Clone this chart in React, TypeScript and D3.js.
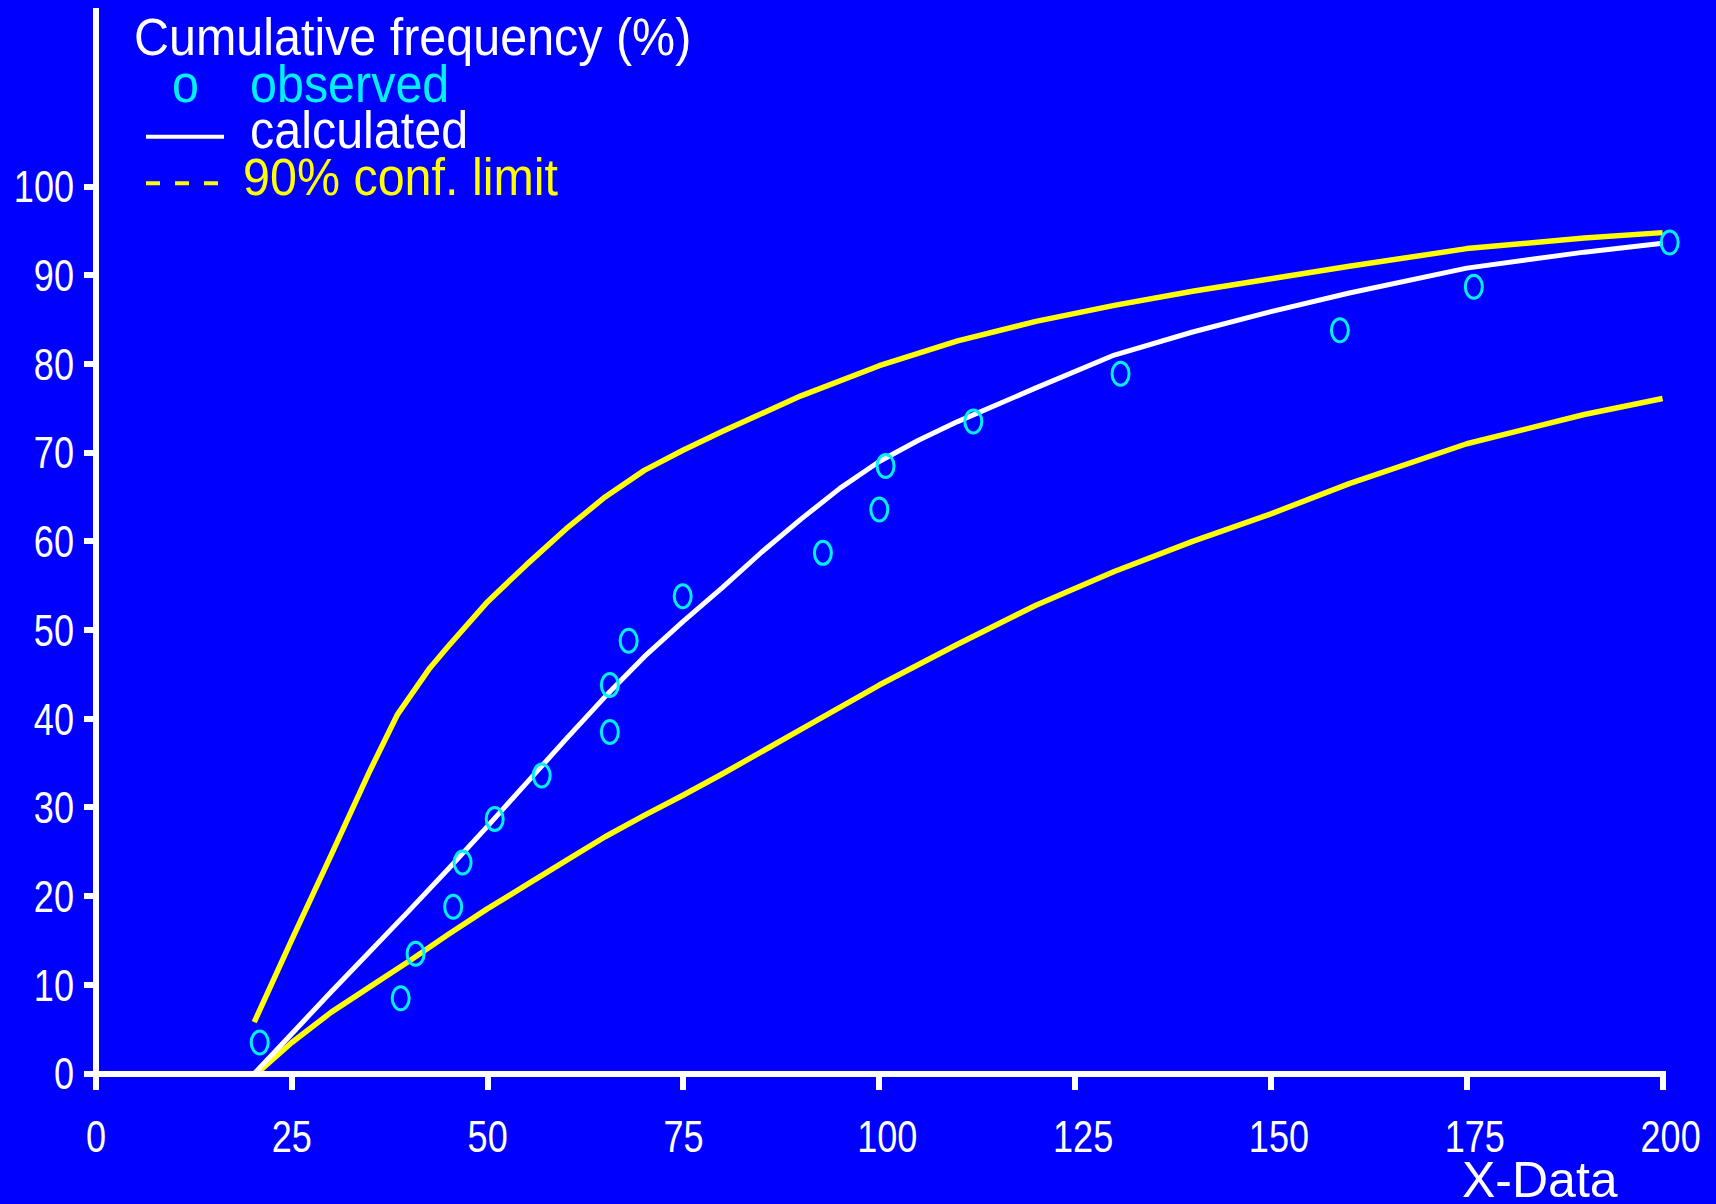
import React, { useEffect } from 'react';
import * as d3 from 'd3';

// observed points [x, cumulative %]
const observed: [number, number][] = [
  [20.9, 3.5], [38.9, 8.5], [40.8, 13.5], [45.6, 18.8], [46.8, 23.8],
  [50.9, 28.7], [56.9, 33.6], [65.6, 38.5], [65.6, 43.8], [68.0, 48.8],
  [74.9, 53.8], [92.8, 58.7], [100.0, 63.6], [100.8, 68.5], [112.0, 73.5],
  [130.8, 78.9], [158.8, 83.8], [175.9, 88.7], [200.9, 93.7],
];

// calculated curve
const calculated: [number, number][] = [
  [20.2, 0], [25, 4.5], [30, 9.2], [35, 13.8], [40, 18.4], [45, 23.1],
  [50, 27.9], [55, 32.8], [60, 37.7], [65, 42.5], [70, 47.0], [75, 51.0],
  [80, 54.8], [85, 58.8], [90, 62.5], [95, 66.0], [100, 69.0], [105, 71.4],
  [110, 73.5], [120, 77.3], [130, 81.0], [140, 83.6], [150, 85.9], [160, 88.0],
  [175, 90.8], [190, 92.6], [200, 93.6],
];

// 90% confidence limits
const upperLimit: [number, number][] = [
  [20.2, 5.8], [25, 15.1], [30, 24.6], [35, 34.2], [38.5, 40.5], [42.6, 45.7],
  [45, 48.2], [50, 53.2], [55, 57.4], [60, 61.4], [65, 65.0], [70, 68.0],
  [75, 70.3], [80, 72.4], [90, 76.4], [100, 79.8], [110, 82.6], [120, 84.8],
  [130, 86.6], [140, 88.2], [150, 89.6], [160, 91.0], [175, 93.0], [190, 94.2],
  [200, 94.8],
];

const lowerLimit: [number, number][] = [
  [20.5, 0], [25, 3.5], [30, 6.9], [35, 9.8], [40, 12.7], [45, 15.7],
  [50, 18.6], [55, 21.3], [60, 24.0], [65, 26.7], [70, 29.1], [75, 31.4],
  [80, 33.8], [90, 38.8], [100, 43.8], [110, 48.4], [120, 52.8], [130, 56.6],
  [140, 60.0], [150, 63.1], [160, 66.5], [175, 71.0], [190, 74.3], [200, 76.1],
];

const xTicks = [0, 25, 50, 75, 100, 125, 150, 175, 200];
const yTicks = [0, 10, 20, 30, 40, 50, 60, 70, 80, 90, 100];

const W = 1716;
const H = 1204;
const BLUE = '#0000ff';
const YELLOW = '#ffff00';
const CYAN = '#00f0ff';
const FONT = '"Liberation Sans", Arial, sans-serif';

export default function App() {
  useEffect(() => {
    document.body.style.margin = '0';
    document.body.style.background = BLUE;
  }, []);

  const x = d3.scaleLinear().domain([0, 200]).range([96, 1662.6]);
  const y = d3.scaleLinear().domain([0, 100]).range([1073.6, 186.5]);

  const line = d3
    .line<[number, number]>()
    .x(d => x(d[0]))
    .y(d => y(d[1]));

  const x0 = x(0);
  const y0 = y(0);

  return (
    <svg
      width={W}
      height={H}
      style={{ position: 'absolute', left: 0, top: 0, display: 'block' }}
      fontFamily={FONT}
    >
      <rect width={W} height={H} fill={BLUE} />

      {/* curves */}
      <path d={line(lowerLimit) || ''} fill="none" stroke={YELLOW} strokeWidth={5.5} strokeLinejoin="round" />
      <path d={line(upperLimit) || ''} fill="none" stroke={YELLOW} strokeWidth={5.5} strokeLinejoin="round" />
      <path d={line(calculated) || ''} fill="none" stroke="#ffffff" strokeWidth={5} strokeLinejoin="round" />

      {/* observed markers */}
      {observed.map((d, i) => (
        <ellipse
          key={i}
          cx={x(d[0])}
          cy={y(d[1])}
          rx={8.5}
          ry={11.5}
          fill="none"
          stroke={CYAN}
          strokeWidth={3}
        />
      ))}

      {/* axes */}
      <g fill="#ffffff" shapeRendering="crispEdges">
        <rect x={x0 - 3} y={8} width={6} height={1090 - 8} />
        <rect x={84} y={y0 - 3} width={x(200) + 3 - 84} height={6} />
        {xTicks.map(t => (
          <rect key={t} x={x(t) - 3} y={y0} width={6} height={16} />
        ))}
        {yTicks.map(t => (
          <rect key={t} x={84} y={y(t) - 3} width={x0 - 84} height={6} />
        ))}
      </g>

      {/* tick labels */}
      <g fill="#ffffff" fontSize={44}>
        {yTicks.map(t => (
          <text
            key={t}
            transform={`translate(74,${y(t)}) scale(0.82,1)`}
            textAnchor="end"
            dy="0.36em"
          >
            {t}
          </text>
        ))}
        {xTicks.map(t => (
          <text
            key={t}
            transform={`translate(${x(t) + (t >= 100 ? 8 : 0)},1152) scale(0.82,1)`}
            textAnchor="middle"
          >
            {t}
          </text>
        ))}
      </g>
      <text x={1462} y={1197} fill="#ffffff" fontSize={50}>
        X-Data
      </text>

      {/* legend */}
      <g fontSize={51}>
        <text transform="translate(134,55) scale(0.95,1)" fill="#ffffff">
          Cumulative frequency (%)
        </text>
        <text transform="translate(172,101.7) scale(0.95,1)" fill={CYAN}>
          o
        </text>
        <text transform="translate(250,101.7) scale(0.95,1)" fill={CYAN}>
          observed
        </text>
        <line x1={146} x2={224} y1={136.7} y2={136.7} stroke="#ffffff" strokeWidth={4} />
        <text transform="translate(250,148.3) scale(0.95,1)" fill="#ffffff">
          calculated
        </text>
        <line
          x1={146}
          x2={219}
          y1={183.3}
          y2={183.3}
          stroke={YELLOW}
          strokeWidth={4}
          strokeDasharray="14 15"
        />
        <text transform="translate(243,195) scale(0.95,1)" fill={YELLOW}>
          90% conf. limit
        </text>
      </g>
    </svg>
  );
}
